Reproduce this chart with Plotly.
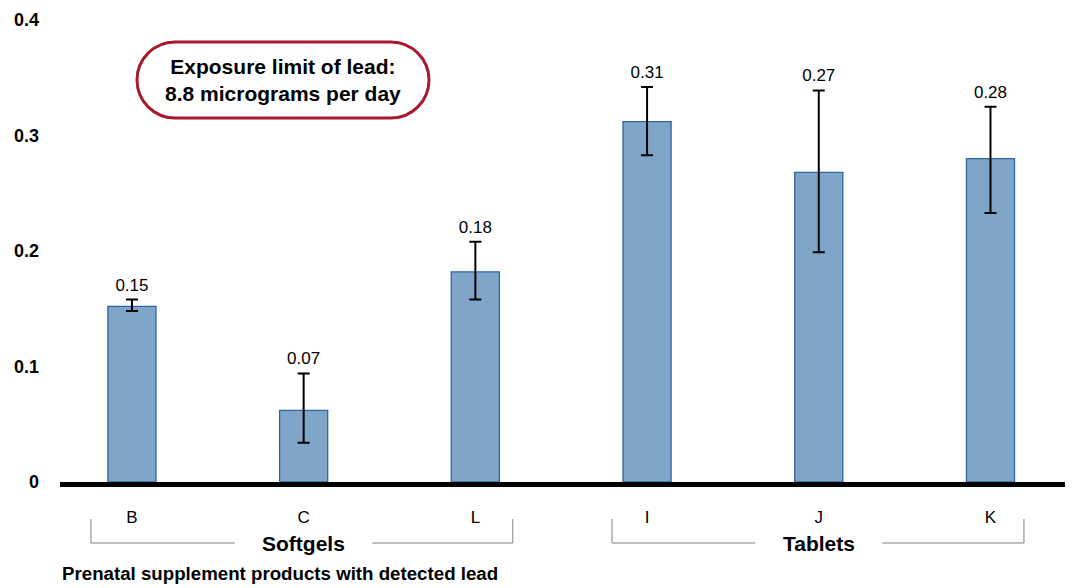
import plotly.graph_objects as go

# ---- data ----
categories = ["B", "C", "L", "I", "J", "K"]
values = [0.152, 0.062, 0.182, 0.312, 0.268, 0.280]
err_upper = [0.158, 0.094, 0.208, 0.342, 0.339, 0.325]
err_lower = [0.148, 0.034, 0.158, 0.283, 0.199, 0.233]
value_labels = ["0.15", "0.07", "0.18", "0.31", "0.27", "0.28"]
groups = ["Softgels", "Tablets"]
group_members = [[0, 1, 2], [3, 4, 5]]
y_ticks = [0, 0.1, 0.2, 0.3, 0.4]
y_tick_labels = ["0", "0.1", "0.2", "0.3", "0.4"]
x_title = "Prenatal supplement products with detected lead"
note_text = "Exposure limit of lead:<br>8.8 micrograms per day"

FONT = "Liberation Sans, Arial, sans-serif"
W, H = 1073, 588
ML, MR, MT, MB = 60, 8, 20, 106
PW, PH = W - ML - MR, H - MT - MB

def px2x(px):
    return (px - ML) / PW

def py2y(py):
    return (H - MB - py) / PH

xi = list(range(len(categories)))
plus = [u - v for u, v in zip(err_upper, values)]
minus = [v - l for v, l in zip(values, err_lower)]

fig = go.Figure()
fig.add_trace(go.Bar(
    x=xi, y=values, width=0.28,
    marker=dict(color="#7FA6C9", line=dict(color="#2F65A0", width=1.3)),
    error_y=dict(type="data", symmetric=False, array=plus, arrayminus=minus,
                 color="black", thickness=2, width=6),
    showlegend=False, hoverinfo="skip",
))
fig.add_trace(go.Scatter(
    x=xi, y=err_upper, mode="markers+text", text=value_labels,
    marker=dict(size=6, opacity=0),
    textposition="top center",
    textfont=dict(family=FONT, size=17, color="black"),
    showlegend=False, hoverinfo="skip", cliponaxis=False,
))

shapes = []
annotations = []
# group brackets (edge offsets / label gaps in category units)
bracket_pad = [(-0.239, 0.218), (-0.204, 0.195)]
label_gap = [0.40, 0.37]
y_top = py2y(519)
y_bot = py2y(543)
line = dict(color="#808080", width=1)
for g, members, (pl, pr), gap in zip(groups, group_members, bracket_pad, label_gap):
    left = members[0] + pl
    right = members[-1] + pr
    center = sum(members) / len(members)
    shapes.append(dict(type="path", xref="x", yref="paper",
                       path=f"M {left},{y_top} L {left},{y_bot} L {center-gap},{y_bot}",
                       line=line))
    shapes.append(dict(type="path", xref="x", yref="paper",
                       path=f"M {center+gap},{y_bot} L {right},{y_bot} L {right},{y_top}",
                       line=line))
    annotations.append(dict(x=center, y=y_bot, xref="x", yref="paper", text=f"<b>{g}</b>",
                            showarrow=False, font=dict(family=FONT, size=21, color="black"),
                            xanchor="center", yanchor="middle"))

# rounded note box (pill)
x0, x1, y0, y1 = 137, 429, 42, 118
r = (y1 - y0) / 2
k = 0.5523 * r
path = (
    f"M {px2x(x0 + r)},{py2y(y0)} L {px2x(x1 - r)},{py2y(y0)} "
    f"C {px2x(x1 - r + k)},{py2y(y0)} {px2x(x1)},{py2y(y0 + r - k)} {px2x(x1)},{py2y(y0 + r)} "
    f"C {px2x(x1)},{py2y(y0 + r + k)} {px2x(x1 - r + k)},{py2y(y1)} {px2x(x1 - r)},{py2y(y1)} "
    f"L {px2x(x0 + r)},{py2y(y1)} "
    f"C {px2x(x0 + r - k)},{py2y(y1)} {px2x(x0)},{py2y(y0 + r + k)} {px2x(x0)},{py2y(y0 + r)} "
    f"C {px2x(x0)},{py2y(y0 + r - k)} {px2x(x0 + r - k)},{py2y(y0)} {px2x(x0 + r)},{py2y(y0)} Z"
)
shapes.append(dict(type="path", xref="paper", yref="paper", path=path,
                   line=dict(color="#A6192E", width=3), fillcolor="white"))
annotations.append(dict(x=px2x((x0 + x1) / 2), y=py2y((y0 + y1) / 2), xref="paper", yref="paper",
                        text=f"<b>{note_text}</b>", showarrow=False,
                        font=dict(family=FONT, size=21, color="black"),
                        xanchor="center", yanchor="middle"))
# x-axis title
annotations.append(dict(x=0, y=py2y(573), xref="paper", yref="paper", text=f"<b>{x_title}</b>",
                        showarrow=False, font=dict(family=FONT, size=18.7, color="black"),
                        xanchor="left", yanchor="middle"))

fig.update_layout(
    width=W, height=H,
    margin=dict(l=ML, r=MR, t=MT, b=MB),
    plot_bgcolor="white", paper_bgcolor="white",
    font=dict(family=FONT, color="black"),
    shapes=shapes, annotations=annotations,
    xaxis=dict(range=[-0.419, 5.434], tickvals=xi, ticktext=categories,
               showline=True, linecolor="black", linewidth=5, ticks="",
               showgrid=False, zeroline=False, ticklabelstandoff=16,
               tickfont=dict(family=FONT, size=17, color="black")),
    yaxis=dict(range=[0, 0.4], tickvals=y_ticks, ticktext=[f"<b>{t}</b>" for t in y_tick_labels],
               showline=False, showgrid=False, zeroline=False, ticks="",
               ticklabelstandoff=20,
               tickfont=dict(family=FONT, size=18, color="black")),
)

fig.write_html("out.html", config={"displayModeBar": False},
               post_script="document.body.style.margin='0';")
